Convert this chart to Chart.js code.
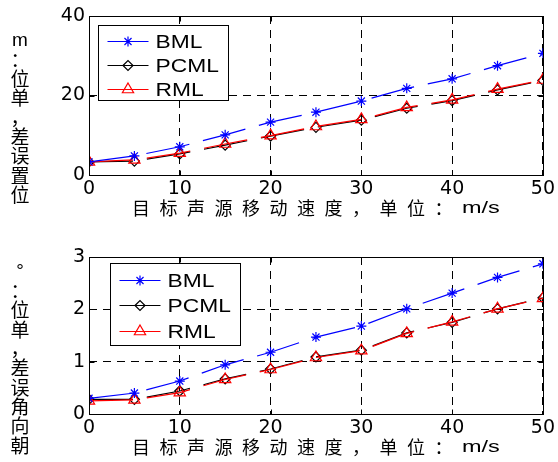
<!DOCTYPE html>
<html><head><meta charset="utf-8">
<script src="https://cdn.jsdelivr.net/npm/chart.js@4/dist/chart.umd.min.js"></script>
<style>
html,body{margin:0;padding:0;background:#fff;}
#wrap{width:558px;height:462px;position:relative;overflow:hidden;}
.c{position:absolute;left:0;width:558px;height:231px;}
canvas{display:block;}
</style></head><body>
<div id="wrap">
<div class="c" style="top:0"><canvas id="c1" width="558" height="231" style="width:558px;height:231px"></canvas></div>
<div class="c" style="top:231px"><canvas id="c2" width="558" height="231" style="width:558px;height:231px"></canvas></div>
</div>
<script>
// ---- data ----
const speeds = [0, 5, 10, 15, 20, 25, 30, 35, 40, 45, 50];
const seriesNames = ['BML', 'PCML', 'RML'];
// position error (m)
const posBML  = [3.3, 4.8, 7.1, 10.1, 13.3, 15.8, 18.6, 21.8, 24.2, 27.5, 30.6];
const posPCML = [3.3, 3.5, 5.3, 7.5, 9.8, 12.0, 13.8, 16.8, 18.7, 21.4, 23.8];
const posRML  = [3.3, 3.8, 5.5, 7.8, 9.9, 12.2, 14.0, 17.0, 18.9, 21.6, 23.9];
// heading angle error (deg)
const angBML  = [0.30, 0.40, 0.63, 0.94, 1.18, 1.47, 1.68, 2.01, 2.31, 2.61, 2.87];
const angPCML = [0.28, 0.28, 0.44, 0.67, 0.86, 1.09, 1.22, 1.55, 1.75, 2.01, 2.22];
const angRML  = [0.25, 0.27, 0.41, 0.66, 0.85, 1.08, 1.21, 1.54, 1.76, 2.01, 2.21];
// ticks
const xTickValues = [0, 10, 20, 30, 40, 50];
const posTickValues = [0, 20, 40];
const angTickValues = [0, 1, 2, 3];
// titles
const xTitle = '目标声源移动速度，单位：m/s';
const posYTitle = '位置误差，单位：m';
const angYTitle = '朝向角误差，单位：°';

// ---- styles ----
const seriesColors = ['#0000ff', '#000000', '#ff0000'];
const seriesMarkers = ['star', 'rectRot', 'triangle'];
const seriesRadius = [5, 5, 6.5];
const CJK = '"Noto Sans CJK SC", sans-serif';
const LAT = '"Liberation Sans", Arial, sans-serif';

function isCJK(ch) { return ch.charCodeAt(0) > 0x2E80; }

function drawMarker(ctx, style, r, x, y, color) {
  ctx.save();
  ctx.strokeStyle = color; ctx.fillStyle = 'rgba(0,0,0,0)'; ctx.lineWidth = 1.2; ctx.setLineDash([]);
  if (Chart.helpers && Chart.helpers.drawPoint) {
    Chart.helpers.drawPoint(ctx, {pointStyle: style, radius: r, rotation: 0, borderWidth: 1.2}, x, y);
  }
  ctx.restore();
}

const frameTicks = {
  id: 'frameTicks',
  afterDraw(chart) {
    const {ctx, chartArea: a, scales} = chart;
    const x = scales.x, y = scales.y;
    ctx.save();
    ctx.strokeStyle = '#000'; ctx.lineWidth = 1; ctx.setLineDash([]);
    const L = Math.round(a.left) + 0.5, R = Math.round(a.right) + 0.5;
    const T = Math.round(a.top) + 0.5, B = Math.round(a.bottom) + 0.5;
    ctx.strokeRect(L, T, R - L, B - T);
    const tl = 5;
    ctx.beginPath();
    x.ticks.forEach(t => {
      const p = Math.round(x.getPixelForValue(t.value)) + 0.5;
      ctx.moveTo(p, B); ctx.lineTo(p, B - tl);
      ctx.moveTo(p, T); ctx.lineTo(p, T + tl);
    });
    y.ticks.forEach(t => {
      const p = Math.round(y.getPixelForValue(t.value)) + 0.5;
      ctx.moveTo(L, p); ctx.lineTo(L + tl, p);
      ctx.moveTo(R, p); ctx.lineTo(R - tl, p);
    });
    ctx.stroke();
    ctx.restore();
  }
};

const boxLegend = {
  id: 'boxLegend',
  afterDraw(chart, args, o) {
    const {ctx, chartArea: a} = chart;
    const bx = Math.round(a.left + o.dx) + 0.5, by = Math.round(a.top + o.dy) + 0.5;
    ctx.save();
    ctx.fillStyle = '#fff';
    ctx.fillRect(bx, by, o.w, o.h);
    ctx.strokeStyle = '#000'; ctx.lineWidth = 1; ctx.setLineDash([]);
    ctx.strokeRect(bx, by, o.w, o.h);
    chart.data.datasets.forEach((ds, i) => {
      const ry = Math.round(by + o.row0 + i * o.step) + 0.5;
      ctx.strokeStyle = ds.borderColor; ctx.lineWidth = 1.2;
      ctx.beginPath(); ctx.moveTo(bx + 9, ry); ctx.lineTo(bx + 50, ry); ctx.stroke();
      drawMarker(ctx, ds.pointStyle, ds.pointRadius, bx + 29.5, ry, ds.borderColor);
      ctx.save();
      ctx.translate(bx + 57, ry + 1);
      ctx.scale(1.2, 1);
      ctx.fillStyle = '#000';
      ctx.font = '19px ' + LAT;
      ctx.textBaseline = 'middle'; ctx.textAlign = 'left';
      ctx.fillText(ds.label, 0, 0);
      ctx.restore();
    });
    ctx.restore();
  }
};

const axisTitles = {
  id: 'axisTitles',
  afterDraw(chart, args, o) {
    const {ctx, chartArea: a} = chart;
    ctx.save();
    ctx.fillStyle = '#000';
    ctx.textBaseline = 'middle';
    // x title
    const gap = 9.5, stretch = 1.38;
    const items = Array.from(o.xText).map(ch => {
      if (isCJK(ch)) { ctx.font = '18px ' + CJK; return {ch, cjk: true, w: ctx.measureText(ch).width + gap}; }
      ctx.font = '17px ' + LAT; return {ch, cjk: false, w: ctx.measureText(ch).width * stretch};
    });
    const total = items.reduce((s, it) => s + it.w, 0);
    let cx = (a.left + a.right) / 2 - total / 2;
    const ty = a.bottom + o.xTitleOffset;
    ctx.textAlign = 'left';
    items.forEach(it => {
      if (it.cjk) { ctx.font = '18px ' + CJK; ctx.fillText(it.ch, cx, ty); }
      else {
        ctx.save(); ctx.translate(cx, ty); ctx.scale(stretch, 1);
        ctx.font = '17px ' + LAT; ctx.fillText(it.ch, 0, 0); ctx.restore();
      }
      cx += it.w;
    });
    // y title: upright characters, reading bottom to top
    const chars = Array.from(o.yText).reverse();
    const step = 19.3;
    const center = (a.top + a.bottom) / 2 + o.yShift;
    let yy = center - (chars.length - 1) / 2 * step;
    ctx.textAlign = 'center';
    chars.forEach(ch => {
      ctx.font = (isCJK(ch) ? '19px ' + CJK : '19px ' + LAT);
      ctx.fillText(ch, 20, yy);
      yy += step;
    });
    ctx.restore();
  }
};

function makeDatasets(arrs) {
  return arrs.map((vals, i) => ({
    label: seriesNames[i],
    data: speeds.map((s, k) => ({x: s, y: vals[k]})),
    borderColor: seriesColors[i],
    backgroundColor: 'rgba(0,0,0,0)',
    borderWidth: 1.2,
    borderDash: [44, 14],
    borderCapStyle: 'butt',
    tension: 0,
    fill: false,
    pointStyle: seriesMarkers[i],
    pointRadius: seriesRadius[i],
    pointBorderWidth: 1.2,
    pointBorderColor: seriesColors[i],
    pointBackgroundColor: 'rgba(0,0,0,0)',
    order: [0, 2, 1][i]
  }));
}

function makeChart(id, arrs, yMax, yTicks, yText, cfg) {
  return new Chart(document.getElementById(id), {
    type: 'line',
    data: {datasets: makeDatasets(arrs)},
    options: {
      responsive: false, animation: false, devicePixelRatio: 1,
      events: [],
      layout: {padding: {top: cfg.padTop, right: 14, left: 0, bottom: 0}},
      plugins: {
        legend: {display: false}, tooltip: {enabled: false},
        boxLegend: cfg.legend,
        axisTitles: {xText: xTitle, yText: yText, xTitleOffset: 33, yShift: cfg.yShift}
      },
      scales: {
        x: {
          type: 'linear', min: 0, max: 50,
          afterBuildTicks: s => { s.ticks = xTickValues.map(v => ({value: v})); },
          ticks: {color: '#000', font: {family: '"DejaVu Sans", sans-serif', size: 19}, padding: 3, maxRotation: 0},
          grid: {color: '#000', lineWidth: 1, drawTicks: false},
          border: {display: false, dash: [8, 6]},
          afterFit: s => { s.height = cfg.xHeight; }
        },
        y: {
          type: 'linear', min: 0, max: yMax,
          afterBuildTicks: s => { s.ticks = yTicks.map(v => ({value: v})); },
          ticks: {color: '#000', font: {family: '"DejaVu Sans", sans-serif', size: 19}, padding: 4},
          grid: {color: '#000', lineWidth: 1, drawTicks: false},
          border: {display: false, dash: [8, 6]},
          afterFit: s => { s.width = 89; }
        }
      }
    },
    plugins: [frameTicks, boxLegend, axisTitles]
  });
}

makeChart('c1', [posBML, posPCML, posRML], 40, posTickValues, posYTitle,
  {padTop: 16, xHeight: 56, yShift: 22, legend: {dx: 9, dy: 9, w: 130, h: 75, row0: 15, step: 24}});
makeChart('c2', [angBML, angPCML, angRML], 3, angTickValues, angYTitle,
  {padTop: 26, xHeight: 48, yShift: 23, legend: {dx: 21, dy: 6, w: 130, h: 82, row0: 16, step: 25.5}});
</script>
</body></html>
